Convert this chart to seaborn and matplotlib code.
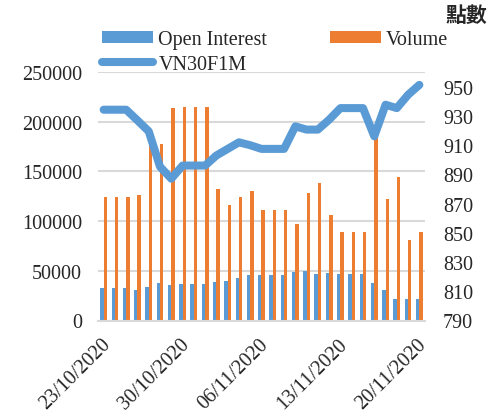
import pandas as pd
import seaborn as sns
import matplotlib.pyplot as plt
from matplotlib.patches import Patch
from matplotlib.lines import Line2D
from matplotlib.transforms import ScaledTranslation

# gegevens
datums = ["23/10/2020", "24/10/2020", "25/10/2020", "26/10/2020", "27/10/2020",
          "28/10/2020", "29/10/2020", "30/10/2020", "31/10/2020", "01/11/2020",
          "02/11/2020", "03/11/2020", "04/11/2020", "05/11/2020", "06/11/2020",
          "07/11/2020", "08/11/2020", "09/11/2020", "10/11/2020", "11/11/2020",
          "12/11/2020", "13/11/2020", "14/11/2020", "15/11/2020", "16/11/2020",
          "17/11/2020", "18/11/2020", "19/11/2020", "20/11/2020"]
open_interest = [32700, 32700, 32700, 31000, 33300, 37700, 35700, 36700, 36700, 36700,
                 39000, 40000, 42700, 45700, 45700, 45700, 45700, 48700, 49700, 46400,
                 47700, 46400, 46400, 46400, 37700, 31000, 21400, 21400, 21400]
volume = [124400, 124400, 124400, 126000, 176700, 178000, 213700, 214400, 214400, 214400,
          132700, 116000, 124400, 130000, 110700, 110700, 110700, 96700, 128700, 138700,
          105700, 88700, 88700, 88700, 184000, 122700, 144400, 81400, 89400]
vn30 = [934.2, 934.2, 934.2, 926.9, 919.4, 895.2, 887.0, 896.0, 896.0, 896.0,
        902.9, 907.4, 911.9, 909.9, 907.4, 907.4, 907.4, 922.8, 920.6, 920.6,
        927.4, 935.3, 935.3, 935.3, 916.0, 937.6, 935.3, 944.4, 951.2]
reeks_namen = ["Open Interest", "Volume"]
label_datums = ["23/10/2020", "30/10/2020", "06/11/2020", "13/11/2020", "20/11/2020"]

blauw = "#5B9BD5"
oranje = "#ED7D31"
grijs = "#D9D9D9"

sns.set_style("white")
plt.rcParams['font.family'] = ['Liberation Serif', 'Noto Sans CJK TC']
fs = 14.5

# lange vorm voor seaborn
frame = pd.DataFrame({
    "datum": datums * 2,
    "reeks": [reeks_namen[0]] * len(datums) + [reeks_namen[1]] * len(datums),
    "waarde": open_interest + volume,
})

fig = plt.figure(figsize=(4.89, 4.14), dpi=100)
ax = fig.add_axes([98 / 489, 1 - 321.5 / 414, 327 / 489, 248.5 / 414])

sns.barplot(data=frame, x="datum", y="waarde", hue="reeks", order=datums,
            palette=[blauw, oranje], width=0.6, saturation=1, linewidth=0,
            legend=False, ax=ax)
ax.set_xlim(-0.5, len(datums) - 0.5)
ax.set_ylim(0, 250000)
ax.set_yticks(range(0, 250001, 50000))
ax.yaxis.grid(True, color=grijs, linewidth=1.5)
ax.set_axisbelow(True)
ax.set_xlabel("")
ax.set_ylabel("")
for s in ["top", "left", "right"]:
    ax.spines[s].set_visible(False)
ax.spines["bottom"].set_color(grijs)
ax.spines["bottom"].set_linewidth(1.5)

# labels om de 7 dagen, streepjes op de grenzen
posities = [datums.index(d) for d in label_datums]
ax.set_xticks(posities)
ax.set_xticklabels(label_datums, rotation=45, ha="right", va="center",
                   rotation_mode="anchor", fontsize=fs)
ax.set_xticks([p - 0.5 for p in posities], minor=True)
ax.tick_params(axis="x", which="major", length=0, pad=15)
ax.tick_params(axis="x", which="minor", length=5, width=1.5, color=grijs)
ax.tick_params(axis="y", length=0, pad=11.5, labelsize=fs)
verschuif = ScaledTranslation(4 / 100, 0, fig.dpi_scale_trans)
for lbl in ax.get_xticklabels():
    lbl.set_transform(lbl.get_transform() + verschuif)

ax2 = ax.twinx()
sns.lineplot(x=list(range(len(datums))), y=vn30, color=blauw, linewidth=5.8,
             solid_capstyle="round", ax=ax2)
ax2.set_ylim(790, 960)
ax2.set_yticks(range(790, 951, 20))
ax2.tick_params(axis="y", length=0, pad=13, labelsize=fs)
for s in ax2.spines.values():
    s.set_visible(False)
ax2.grid(False)

handles = [Patch(color=blauw, linewidth=0),
           Line2D([0], [0], color=blauw, linewidth=5.8, solid_capstyle="round"),
           Patch(color=oranje, linewidth=0)]
fig.legend(handles, ["Open Interest", "VN30F1M", "Volume"], ncol=2, frameon=False,
           loc="upper left", bbox_to_anchor=(102 / 489, 1 - 31 / 414),
           borderaxespad=0, borderpad=0, fontsize=fs, handlelength=2.55,
           handleheight=0.55, handletextpad=0.25, columnspacing=3.1,
           labelspacing=0.3)

fig.text(487 / 489, 1 - 15 / 414, "點數", ha="right", va="center", fontsize=15,
         fontweight="bold", family=["Noto Sans CJK TC"])

plt.savefig("out.png", dpi=100)
